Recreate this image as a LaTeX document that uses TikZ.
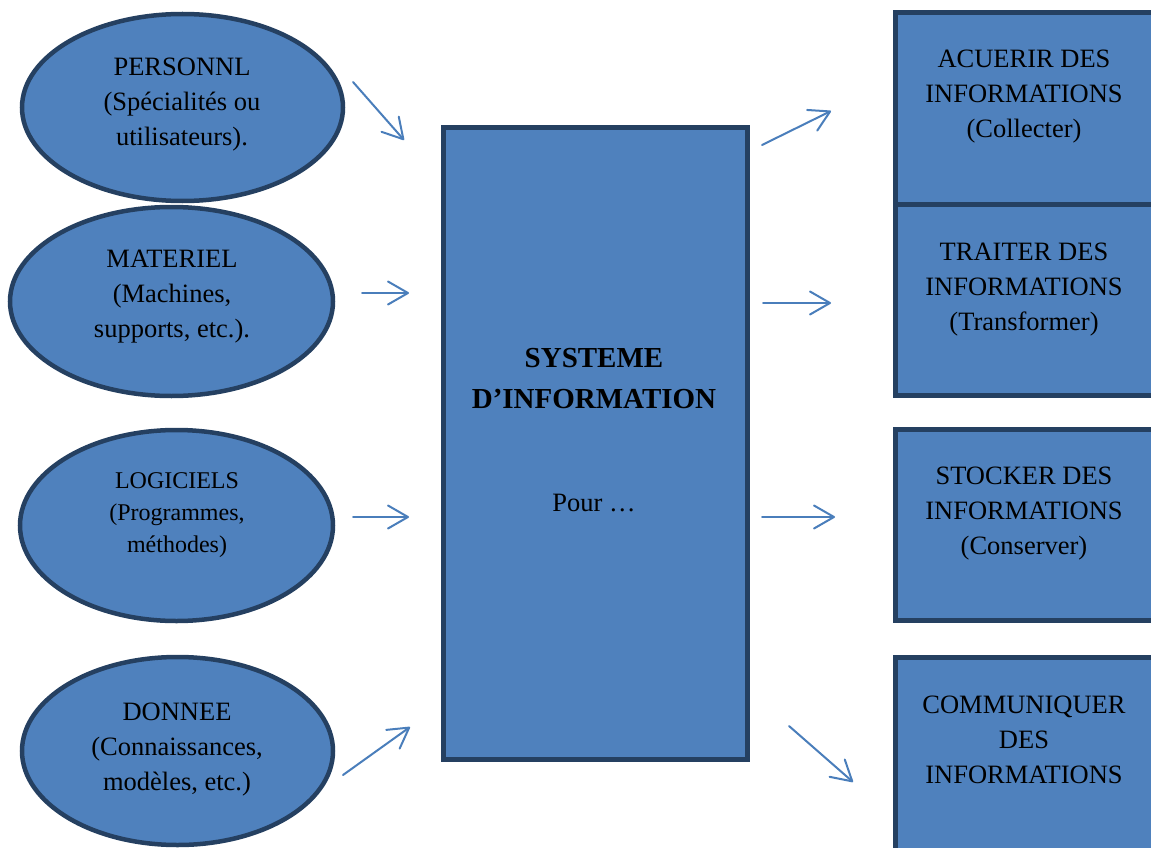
\documentclass[tikz,border=0pt]{standalone}
\usepackage{fontspec}
\setmainfont{Liberation Serif}
\usetikzlibrary{shapes.geometric,arrows.meta}

\definecolor{boxfill}{HTML}{4F81BD}
\definecolor{boxline}{HTML}{254061}
\definecolor{arrowblue}{HTML}{4A7EBB}

\tikzset{
  oval/.style={ellipse, draw=boxline, fill=boxfill, line width=4.5pt, inner sep=0pt},
  block/.style={rectangle, draw=boxline, fill=boxfill, line width=5pt, inner sep=0pt},
  txt/.style={align=center, inner sep=0pt, text=black, font=\fontsize{26.5pt}{35pt}\selectfont},
  smalltxt/.style={txt, font=\fontsize{24pt}{32pt}\selectfont},
  titletxt/.style={align=center, inner sep=0pt, text=black, font=\bfseries\fontsize{29pt}{41pt}\selectfont},
  flow/.style={draw=arrowblue, line width=2pt, line cap=round,
    -{Straight Barb[length=20pt,width=23pt,line cap=round,line join=round]}}
}

\begin{document}
\begin{tikzpicture}[x=1pt,y=-1pt]
\useasboundingbox (0,0) rectangle (1151,848);
\clip (0,0) rectangle (1151,848);

% resources feeding the system
\node[oval, minimum width=321pt, minimum height=187pt] (pers) at (182.5,107.5) {};
\node[oval, minimum width=323pt, minimum height=189pt] (mat) at (171.5,301.5) {};
\node[oval, minimum width=313pt, minimum height=191pt] (log) at (176.5,525.5) {};
\node[oval, minimum width=311pt, minimum height=188pt] (don) at (177.5,751) {};

\node[txt] (tpers) at (182,105) {PERSONNL\\(Spécialités ou\\utilisateurs).};
\node[txt] (tmat) at (172,297) {MATERIEL\\(Machines,\\supports, etc.).};
\node[smalltxt] (tlog) at (177,515) {LOGICIELS\\(Programmes,\\méthodes)};
\node[txt] (tdon) at (177,750) {DONNEE\\(Connaissances,\\modèles, etc.)};

% central system
\node[block, minimum width=304pt, minimum height=632pt] (sys) at (595.5,443.5) {};
\node[titletxt] (tsys) at (594,378.5) {SYSTEME\\D’INFORMATION};
\node[txt, anchor=base] (tpour) at (594,511) {Pour …};

% functions of the system
\node[block, minimum width=290pt, minimum height=191.5pt] (acq) at (1040.5,108.25) {};
\node[block, minimum width=290pt, minimum height=191.5pt] (trt) at (1040.5,299.75) {};
\node[block, minimum width=290pt, minimum height=191pt] (sto) at (1040.5,525) {};
\node[block, minimum width=290pt, minimum height=220pt] (com) at (1040.5,767.5) {};

\node[txt] (tacq) at (1024,97) {ACUERIR DES\\INFORMATIONS\\(Collecter)};
\node[txt] (ttrt) at (1024,290) {TRAITER DES\\INFORMATIONS\\(Transformer)};
\node[txt] (tsto) at (1024,514) {STOCKER DES\\INFORMATIONS\\(Conserver)};
\node[txt] (tcom) at (1024,740) {COMMUNIQUER\\DES\\INFORMATIONS};

% arrow end points
\coordinate (a1s) at (353,82);  \coordinate (a1e) at (404,140);
\coordinate (a2s) at (362,293); \coordinate (a2e) at (409,293);
\coordinate (a3s) at (353,517); \coordinate (a3e) at (409,517);
\coordinate (a4s) at (343,775); \coordinate (a4e) at (410,727);
\coordinate (b1s) at (762,145); \coordinate (b1e) at (831,111);
\coordinate (b2s) at (763,303); \coordinate (b2e) at (831,303);
\coordinate (b3s) at (762,517); \coordinate (b3e) at (835,517);
\coordinate (b4s) at (789,726); \coordinate (b4e) at (853,782);

\draw[flow] (a1s) -- (a1e);
\draw[flow] (a2s) -- (a2e);
\draw[flow] (a3s) -- (a3e);
\draw[flow] (a4s) -- (a4e);
\draw[flow] (b1s) -- (b1e);
\draw[flow] (b2s) -- (b2e);
\draw[flow] (b3s) -- (b3e);
\draw[flow] (b4s) -- (b4e);
\end{tikzpicture}
\end{document}
